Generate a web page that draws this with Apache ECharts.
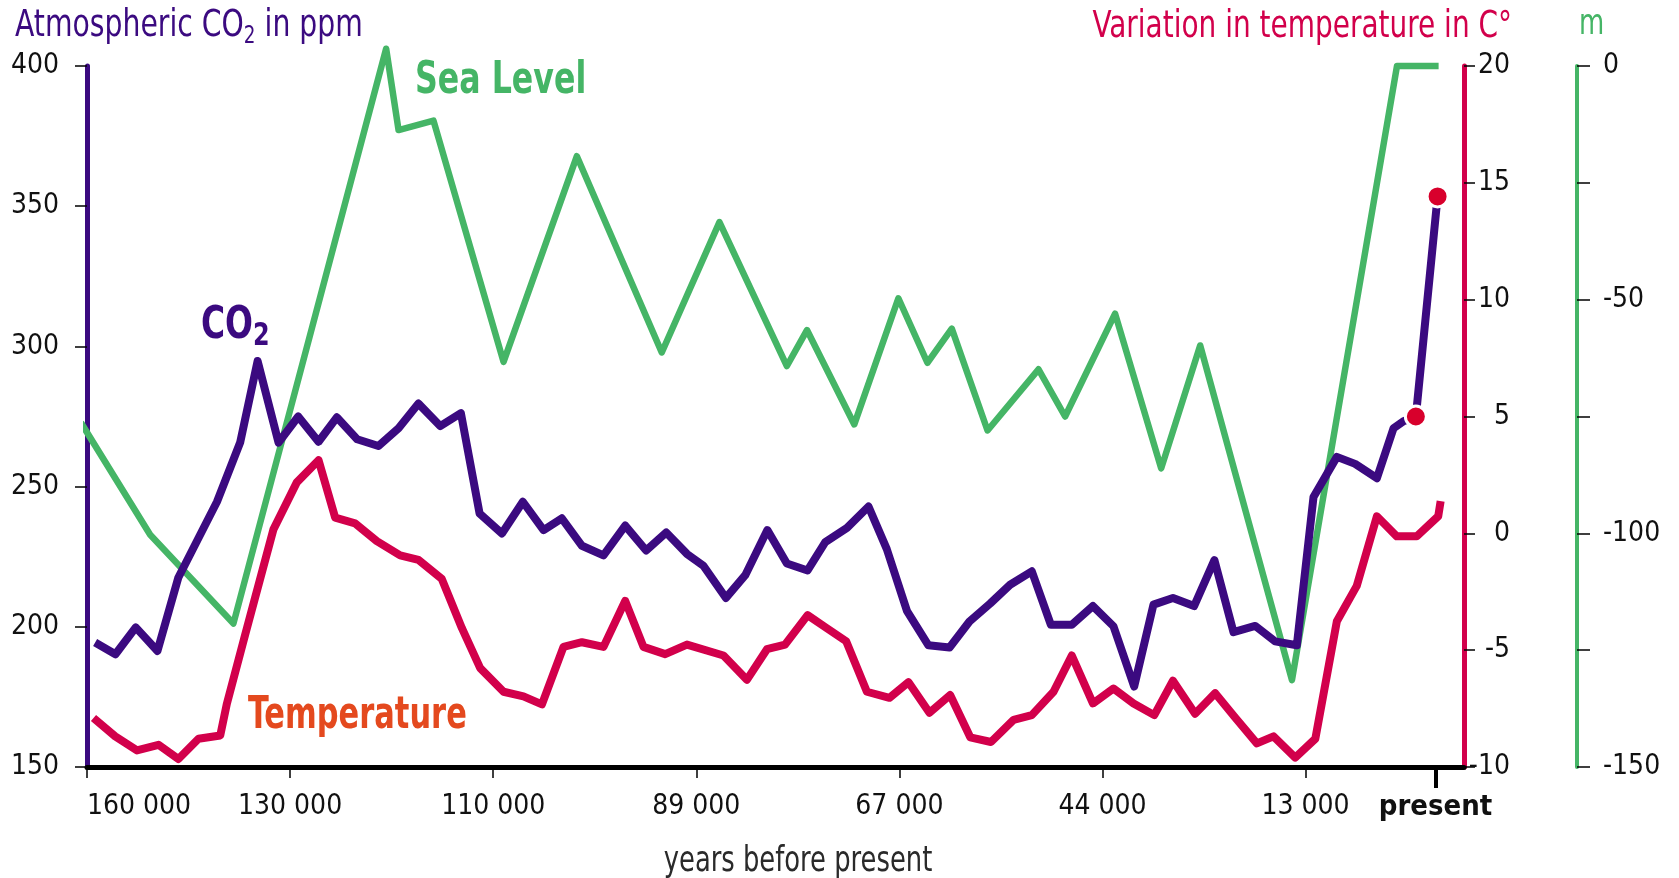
<!DOCTYPE html>
<html>
<head>
<meta charset="utf-8">
<script src="https://cdn.jsdelivr.net/npm/echarts@6/dist/echarts.min.js"></script>
<style>
html,body{margin:0;padding:0;background:#fff;}
#chart{width:1679px;height:878px;}
</style>
</head>
<body>
<div id="chart"></div>
<script>
// x positions are in "tick units": 0 = 160 000, 1 = 130 000, ... 6 = 13 000, 6.64 = present
const tickPos = [0, 1, 2, 3, 4, 5, 6];
const tickLabels = ['160 000', '130 000', '110 000', '89 000', '67 000', '44 000', '13 000'];
const presentPos = 6.64;

const co2Pos = [0.04, 0.14, 0.24, 0.347, 0.45, 0.64, 0.754, 0.84, 0.943, 1.04, 1.14, 1.23, 1.33, 1.435, 1.534, 1.632, 1.739, 1.841, 1.933, 2.043, 2.146, 2.248, 2.338, 2.437, 2.543, 2.65, 2.753, 2.852, 2.954, 3.035, 3.146, 3.241, 3.35, 3.446, 3.548, 3.635, 3.742, 3.848, 3.938, 4.037, 4.143, 4.247, 4.345, 4.447, 4.545, 4.652, 4.746, 4.849, 4.953, 5.054, 5.156, 5.251, 5.347, 5.451, 5.551, 5.645, 5.752, 5.85, 5.957, 6.039, 6.154, 6.244, 6.351, 6.433, 6.482, 6.543, 6.65];
const co2Val = [194.4, 190.2, 199.8, 191.4, 217.6, 244.6, 265.7, 294.8, 265.7, 275, 266, 274.7, 266.9, 264.5, 270.8, 279.6, 271.6, 276.2, 240.4, 233.3, 244.6, 234.5, 238.7, 228.9, 225.5, 236.1, 227.2, 233.6, 226, 221.8, 210.3, 218.4, 234.5, 222.6, 220.1, 230.2, 235.3, 242.9, 227.7, 205.7, 193.4, 192.6, 201.9, 208.3, 215, 219.8, 200.7, 200.7, 207.4, 200.2, 178.7, 207.9, 210.3, 207.4, 223.8, 198.1, 200.3, 194.8, 193.4, 246.3, 260.6, 258.1, 253, 270.8, 273.3, 275, 353.5];

const co2DotPos = [6.543, 6.65];
const co2DotVal = [275, 353.5];

const tempPos = [0.032, 0.139, 0.246, 0.352, 0.45, 0.549, 0.656, 0.689, 0.78, 0.918, 1.033, 1.14, 1.222, 1.32, 1.427, 1.542, 1.632, 1.747, 1.846, 1.936, 2.051, 2.149, 2.24, 2.346, 2.437, 2.543, 2.65, 2.74, 2.847, 2.954, 3.134, 3.249, 3.348, 3.437, 3.548, 3.643, 3.738, 3.84, 3.951, 4.045, 4.148, 4.25, 4.349, 4.451, 4.562, 4.652, 4.759, 4.849, 4.953, 5.054, 5.153, 5.255, 5.347, 5.456, 5.555, 5.653, 5.76, 5.842, 5.949, 6.048, 6.154, 6.252, 6.351, 6.449, 6.547, 6.653, 6.665];
const tempVal = [-7.9, -8.69, -9.29, -9.05, -9.66, -8.79, -8.65, -7.28, -4.3, 0.17, 2.18, 3.13, 0.67, 0.43, -0.33, -0.94, -1.14, -1.95, -4.06, -5.77, -6.78, -6.98, -7.32, -4.86, -4.66, -4.86, -2.89, -4.86, -5.17, -4.76, -5.23, -6.27, -4.96, -4.76, -3.5, -4.06, -4.62, -6.78, -7.04, -6.37, -7.68, -6.92, -8.73, -8.93, -7.98, -7.78, -6.78, -5.23, -7.28, -6.64, -7.28, -7.78, -6.31, -7.72, -6.84, -7.88, -8.99, -8.69, -9.6, -8.79, -3.76, -2.25, 0.73, -0.13, -0.13, 0.73, 1.38];

const seaPos = [-0.03, 0.311, 0.721, 1.473, 1.534, 1.706, 2.051, 2.412, 2.83, 3.114, 3.446, 3.545, 3.778, 3.995, 4.138, 4.258, 4.434, 4.685, 4.816, 5.062, 5.289, 5.481, 5.933, 6.45, 6.655];
const seaVal = [-76.3, -100.3, -119.3, 3.7, -13.7, -11.7, -63.3, -19.3, -61.3, -33.4, -64.2, -56.5, -76.7, -49.7, -63.5, -56.2, -78, -64.9, -75, -53, -86.1, -59.8, -131.4, 0, 0];

const FONT = "'Liberation Sans Narrow', 'Arial Narrow', 'DejaVu Sans Condensed', sans-serif";
const PURPLE = '#3b0a80';
const CRIMSON = '#d2004b';
const GREEN = '#45b566';
const ORANGE = '#e4491e';
const DOT = '#d8002c';

const zip = (xs, ys) => xs.map((x, i) => [x, ys[i]]);

const chart = echarts.init(document.getElementById('chart'), null, {renderer: 'canvas'});
const xMin = 0, xMax = 6.78;

chart.setOption({
  animation: false,
  backgroundColor: '#ffffff',
  grid: {left: 87, right: 215, top: 66, bottom: 111, containLabel: false, outerBoundsMode: 'none'},
  xAxis: [
    {
      type: 'value', min: xMin, max: xMax, position: 'bottom',
      axisLine: {show: true, onZero: false, lineStyle: {color: '#000', width: 5}},
      axisTick: {show: true, customValues: tickPos, length: 11, lineStyle: {color: '#000', width: 1.5}},
      axisLabel: {
        show: true, customValues: tickPos, margin: 26, fontSize: 28, fontFamily: FONT, color: '#111',
        formatter: (v) => tickLabels[tickPos.indexOf(Math.round(v))] || '',
        alignMinLabel: 'left'
      },
      splitLine: {show: false}
    },
    {
      type: 'value', min: xMin, max: xMax, position: 'bottom',
      axisLine: {show: false, onZero: false},
      axisTick: {show: true, customValues: [presentPos], length: 21, lineStyle: {color: '#000', width: 4}},
      axisLabel: {
        show: true, customValues: [presentPos], margin: 26, fontSize: 29, fontWeight: 'bold',
        fontFamily: FONT, color: '#111', formatter: () => 'present'
      },
      splitLine: {show: false}
    }
  ],
  yAxis: [
    {
      type: 'value', min: 150, max: 400, interval: 50, position: 'left',
      axisLine: {show: true, onZero: false, lineStyle: {color: PURPLE, width: 5}},
      axisTick: {show: true, length: 12, lineStyle: {color: '#000', width: 1.5}},
      axisLabel: {margin: 28, fontSize: 28, fontFamily: FONT, color: '#111'},
      splitLine: {show: false}
    },
    {
      type: 'value', min: -10, max: 20, interval: 5, position: 'right', offset: 0,
      axisLine: {show: true, onZero: false, lineStyle: {color: CRIMSON, width: 5}},
      axisTick: {show: true, length: 11, lineStyle: {color: '#000', width: 1.5}},
      axisLabel: {margin: 46, align: 'right', fontSize: 28, fontFamily: FONT, color: '#111'},
      splitLine: {show: false}
    },
    {
      type: 'value', min: -150, max: 0, interval: 25, position: 'right', offset: 113,
      axisLine: {show: true, onZero: false, lineStyle: {color: GREEN, width: 4}},
      axisTick: {show: true, length: 13, lineStyle: {color: '#000', width: 1.5}},
      axisLabel: {
        margin: 26, align: 'left', fontSize: 28, fontFamily: FONT, color: '#111',
        formatter: (v) => (v % 50 === 0 ? String(v) : '')
      },
      splitLine: {show: false}
    }
  ],
  series: [
    {
      name: 'Sea Level', type: 'line', xAxisIndex: 0, yAxisIndex: 2, data: zip(seaPos, seaVal),
      showSymbol: false, symbol: 'none', clip: false, z: 2,
      lineStyle: {color: GREEN, width: 6.5, join: 'round'}
    },
    {
      name: 'Temperature', type: 'line', xAxisIndex: 0, yAxisIndex: 1, data: zip(tempPos, tempVal),
      showSymbol: false, symbol: 'none', clip: false, z: 3,
      lineStyle: {color: CRIMSON, width: 8, join: 'round'}
    },
    {
      name: 'CO2', type: 'line', xAxisIndex: 0, yAxisIndex: 0, data: zip(co2Pos, co2Val),
      showSymbol: false, symbol: 'none', clip: false, z: 4,
      lineStyle: {color: PURPLE, width: 8, join: 'round'}
    },
    {
      name: 'CO2 dots', type: 'scatter', xAxisIndex: 0, yAxisIndex: 0, data: zip(co2DotPos, co2DotVal),
      symbol: 'circle', symbolSize: 21, z: 5, clip: false,
      itemStyle: {color: DOT, borderColor: '#fff', borderWidth: 3, opacity: 1}
    }
  ],
  graphic: [
    {
      type: 'text', x: 15, y: 26, scaleX: 0.85, silent: true,
      style: {
        text: '{a|Atmospheric CO}{s|2}{a| in ppm}',
        fill: PURPLE, font: '37px ' + FONT, verticalAlign: 'middle', align: 'left',
        rich: {
          a: {fontSize: 37, fontFamily: FONT, fill: PURPLE, lineHeight: 46, verticalAlign: 'middle'},
          s: {fontSize: 24, fontFamily: FONT, fill: PURPLE, verticalAlign: 'bottom'}
        }
      }
    },
    {
      type: 'text', x: 1512, y: 27, scaleX: 0.84, silent: true,
      style: {text: 'Variation in temperature in C°', fill: CRIMSON, font: '37px ' + FONT, align: 'right', verticalAlign: 'middle'}
    },
    {
      type: 'text', x: 1579, y: 24.5, scaleX: 0.8, silent: true,
      style: {text: 'm', fill: GREEN, font: '36px ' + FONT, align: 'left', verticalAlign: 'middle'}
    },
    {
      type: 'text', x: 415, y: 81.5, scaleX: 0.8, silent: true,
      style: {text: 'Sea Level', fill: GREEN, font: 'bold 44px ' + FONT, align: 'left', verticalAlign: 'middle'}
    },
    {
      type: 'text', x: 201, y: 327, scaleX: 0.83, silent: true,
      style: {
        text: '{a|CO}{s|2}',
        fill: PURPLE, font: 'bold 44px ' + FONT, verticalAlign: 'middle', align: 'left',
        rich: {
          a: {fontSize: 44, fontWeight: 'bold', fontFamily: FONT, fill: PURPLE, lineHeight: 52, verticalAlign: 'middle'},
          s: {fontSize: 32, fontWeight: 'bold', fontFamily: FONT, fill: PURPLE, verticalAlign: 'bottom'}
        }
      }
    },
    {
      type: 'text', x: 248, y: 717, scaleX: 0.77, silent: true,
      style: {text: 'Temperature', fill: ORANGE, font: 'bold 44px ' + FONT, align: 'left', verticalAlign: 'middle'}
    },
    {
      type: 'text', x: 798, y: 862, scaleX: 0.82, silent: true,
      style: {text: 'years before present', fill: '#2a2a2a', font: '35px ' + FONT, align: 'center', verticalAlign: 'middle'}
    }
  ]
});
</script>
</body>
</html>
